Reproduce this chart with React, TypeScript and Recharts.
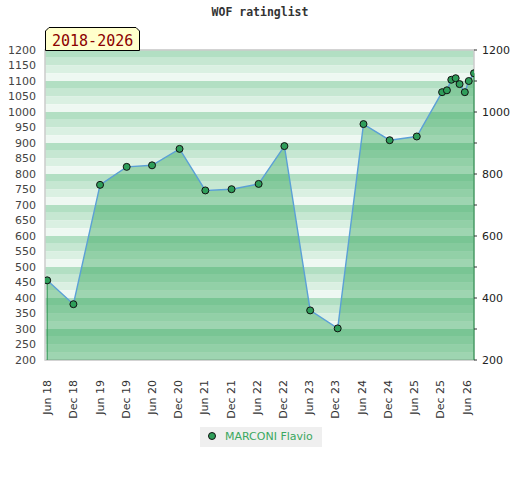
import React from 'react';
import {
  ComposedChart,
  Area,
  Line,
  XAxis,
  YAxis,
  CartesianGrid,
  ReferenceArea,
  ReferenceLine,
} from 'recharts';

// ---- data ----
const months = [5, 11, 17.1, 23.2, 29, 35.3, 41.2, 47.2, 53.4, 59.3, 65.2, 71.5, 77.4, 83.4, 89.6, 95.4, 96.5, 97.5, 98.5, 99.4, 100.6, 101.5, 102.7];
const ratings = [457, 380, 765, 823, 828, 881, 747, 751, 768, 890, 360, 302, 961, 909, 921, 1064, 1070, 1104, 1109, 1090, 1064, 1100, 1125];
const tickMonths = [5, 11, 17, 23, 29, 35, 41, 47, 53, 59, 65, 71, 77, 83, 89, 95, 101];
const tickLabels = ['Jun 18', 'Dec 18', 'Jun 19', 'Dec 19', 'Jun 20', 'Dec 20', 'Jun 21', 'Dec 21', 'Jun 22', 'Dec 22', 'Jun 23', 'Dec 23', 'Jun 24', 'Dec 24', 'Jun 25', 'Dec 25', 'Jun 26'];
const leftTicks = [200, 250, 300, 350, 400, 450, 500, 550, 600, 650, 700, 750, 800, 850, 900, 950, 1000, 1050, 1100, 1150, 1200];
const rightTicks = [200, 300, 400, 500, 600, 700, 800, 900, 1000, 1100, 1200];
const playerName = 'MARCONI Flavio';
const title = 'WOF ratinglist';
const period = '2018-2026';

const data = months.map((m, i) => ({ m, r: ratings[i] }));

const Y_MIN = 200;
const Y_MAX = 1200;
const X_MIN = 4.5;
const X_MAX = 102.7;
const stripeColors = ['#b2dfc3', '#c6e7d2', '#daf0e2', '#eef8f2'];
const bands: { y1: number; y2: number; fill: string }[] = [];
for (let top = Y_MAX; top > Y_MIN; top -= 25) {
  const k = ((Y_MAX - top) / 25) % 4;
  bands.push({ y1: top - 25, y2: top, fill: stripeColors[k] });
}

const labelFor = (v: number) => {
  const i = tickMonths.indexOf(v);
  return i >= 0 ? tickLabels[i] : '';
};

const XTick = (props: any) => {
  const { x, y, payload } = props;
  return (
    <text
      x={0}
      y={0}
      dy="0.36em"
      textAnchor="end"
      fontSize={11}
      fill="#333"
      fontFamily="DejaVu Sans"
      transform={`translate(${x},${y + 12}) rotate(-90)`}
    >
      {labelFor(payload.value)}
    </text>
  );
};

export default function App() {
  return (
    <div style={{ position: 'absolute', left: 0, top: 0, width: 520, height: 480, background: '#fff' }}>
      <div
        style={{
          position: 'absolute',
          left: 0,
          top: 5,
          width: 520,
          textAlign: 'center',
          fontFamily: 'DejaVu Sans Mono',
          fontWeight: 'bold',
          fontSize: 11.5,
          color: '#333',
          lineHeight: '14px',
        }}
      >
        {title}
      </div>
      <ComposedChart
        width={520}
        height={480}
        data={data}
        margin={{ top: 50, right: 0, bottom: 60, left: 0 }}
        style={{ fontFamily: 'DejaVu Sans' }}
      >
        {bands.map((b, i) => (
          <ReferenceArea
            key={i}
            yAxisId="left"
            x1={X_MIN}
            x2={X_MAX}
            y1={b.y1}
            y2={b.y2}
            fill={b.fill}
            fillOpacity={1}
            stroke="none"
            ifOverflow="visible"
          />
        ))}
        <CartesianGrid
          yAxisId="left"
          vertical={false}
          horizontalValues={rightTicks}
          stroke="#d6d6d6"
        />
        <XAxis
          dataKey="m"
          type="number"
          domain={[X_MIN, X_MAX]}
          ticks={tickMonths}
          interval={0}
          height={60}
          tick={<XTick />}
          tickLine={false}
          axisLine={false}
          allowDataOverflow
        />
        <YAxis
          yAxisId="left"
          orientation="left"
          type="number"
          domain={[Y_MIN, Y_MAX]}
          ticks={leftTicks}
          interval={0}
          width={45}
          tickSize={5}
          tickMargin={4}
          tickLine={false}
          axisLine={false}
          tick={{ fontSize: 11, fill: '#444' }}
        />
        <YAxis
          yAxisId="right"
          orientation="right"
          type="number"
          domain={[Y_MIN, Y_MAX]}
          ticks={rightTicks}
          interval={0}
          width={46}
          tickSize={3}
          tickMargin={5}
          tickLine={{ stroke: '#333' }}
          axisLine={false}
          tickFormatter={(v: number) => (v % 200 === 0 ? String(v) : '')}
          tick={{ fontSize: 11, fill: '#222' }}
        />
        <ReferenceArea
          yAxisId="left"
          x1={X_MIN}
          x2={X_MAX}
          y1={Y_MIN}
          y2={Y_MAX}
          fill="none"
          stroke="#cccccc"
          strokeWidth={1.5}
          ifOverflow="visible"
        />
        <Area
          yAxisId="left"
          type="linear"
          dataKey="r"
          baseValue={Y_MIN}
          stroke="#5ba0d6"
          strokeWidth={1.4}
          fill="#1e9a48"
          fillOpacity={0.38}
          dot={{ r: 3.5, fill: '#2f9e5a', stroke: '#111', strokeWidth: 1, fillOpacity: 1 }}
          isAnimationActive={false}
        />
        <Line
          yAxisId="right"
          type="linear"
          dataKey="r"
          stroke="none"
          dot={false}
          activeDot={false}
          legendType="none"
          isAnimationActive={false}
        />
        <ReferenceLine
          yAxisId="left"
          segment={[
            { x: months[0], y: ratings[0] },
            { x: months[0], y: Y_MIN },
          ]}
          stroke="#3a9a5c"
          strokeWidth={1.2}
        />
        <ReferenceLine
          yAxisId="left"
          segment={[
            { x: months[months.length - 1], y: ratings[ratings.length - 1] },
            { x: months[months.length - 1], y: Y_MIN },
          ]}
          stroke="#3a9a5c"
          strokeWidth={1.2}
        />
      </ComposedChart>
      <svg style={{ position: 'absolute', left: 44, top: 26 }} width={98} height={26}>
        <polygon
          points="1.5,24.5 1.5,5 5,1.5 92,1.5 95.5,5 95.5,24.5"
          fill="#ffffcc"
          stroke="#000"
          strokeWidth={1}
        />
        <text x={8} y={19.5} fontFamily="DejaVu Sans Mono" fontSize={15} fill="#8b0000">
          {period}
        </text>
      </svg>
      <div
        style={{
          position: 'absolute',
          left: 200,
          top: 427,
          width: 122,
          height: 20,
          background: '#efefef',
          fontFamily: 'DejaVu Sans',
          fontSize: 11,
          color: '#3aa860',
        }}
      >
        <svg style={{ position: 'absolute', left: 7, top: 5 }} width={10} height={10}>
          <circle cx={5} cy={4} r={3.5} fill="#2f9e5a" stroke="#111" strokeWidth={1} />
        </svg>
        <span style={{ position: 'absolute', left: 25, top: 3, lineHeight: '13px', whiteSpace: 'nowrap' }}>
          {playerName}
        </span>
      </div>
    </div>
  );
}
